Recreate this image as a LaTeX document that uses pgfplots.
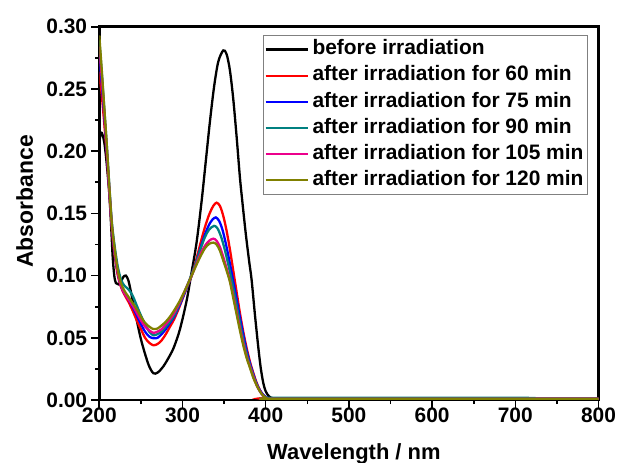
\documentclass[border=0pt]{standalone}
\usepackage{fontspec}
\setmainfont{Liberation Sans}
\usepackage{pgfplots}
\pgfplotsset{compat=1.18}
\definecolor{cteal}{RGB}{0,128,128}
\definecolor{colive}{RGB}{128,128,0}
\begin{document}
\fontsize{21}{25}\selectfont\bfseries
\begin{tikzpicture}
\begin{axis}[
  scale only axis, width=499.2bp, height=373.2bp,
  xmin=200, xmax=800, ymin=0, ymax=0.30,
  xtick={200,300,400,500,600,700,800},
  ytick={0,0.05,0.10,0.15,0.20,0.25,0.30},
  minor x tick num=1, minor y tick num=1,
  tick align=outside, xtick pos=bottom, ytick pos=left,
  major tick length=8bp, minor tick length=4bp,
  every tick/.style={black, line width=1.6bp},
  axis line style={line width=2.6bp},
  /pgf/number format/assume math mode=true,
  ticklabel style={font=\fontsize{21}{25}\selectfont\bfseries},
  yticklabel style={/tikz/inner sep=1bp, /tikz/xshift=-3bp, /pgf/number format/.cd, fixed, fixed zerofill, precision=2},
  xticklabel style={/tikz/inner sep=0bp, /pgf/number format/.cd, fixed, precision=0, set thousands separator={}},
  xlabel={Wavelength / nm}, ylabel={Absorbance},
  xlabel style={at={(axis description cs:0.51,-0.16)}, anchor=base, font=\fontsize{22}{26}\selectfont\bfseries},
  ylabel style={at={(axis description cs:-0.133,0.532)}, anchor=base, font=\fontsize{23}{27}\selectfont\bfseries},
  legend cell align=left,
  legend style={at={(axis description cs:0.328,0.978)}, anchor=north west,
    draw=gray, line width=1bp, inner sep=1bp, column sep=1.2bp,
    font=\fontsize{21}{25}\selectfont\bfseries,
    nodes={inner sep=2.6bp, text height=0.75em, text depth=0.25em}},
  legend image code/.code={\draw[#1, line width=2.2bp] (0bp,0bp) -- (42bp,0bp);},
  every axis plot/.append style={line width=2.3bp, smooth},
]
\addplot[black] coordinates {
(200,0.207)(202,0.215)(204,0.213)(206,0.207)(208,0.196)(210,0.182)(212,0.166)(214,0.143)(216,0.116)(218,0.100)(220,0.094)(223,0.093)(226,0.095)(229,0.099)(232,0.100)(235,0.096)(238,0.087)(242,0.074)(246,0.061)(250,0.049)(255,0.037)(260,0.027)(265,0.0215)(270,0.022)(277,0.027)(285,0.036)(290,0.043)(297,0.057)(305,0.080)(311,0.103)(317,0.127)(323,0.160)(328,0.192)(333,0.224)(338,0.252)(343,0.272)(349,0.281)(353,0.278)(357,0.265)(361,0.242)(365,0.212)(369,0.179)(372,0.159)(376,0.134)(380,0.112)(383,0.097)(387,0.069)(391,0.043)(394,0.026)(397,0.014)(400,0.007)(404,0.003)(410,0.0012)(430,0.001)(600,0.001)(800,0.001)};
\addlegendentry{before irradiation}
\addplot[red] coordinates {
(200,0.264)(203,0.245)(206,0.222)(209,0.197)(212,0.167)(215,0.138)(218,0.119)(222,0.101)(226,0.091)(230,0.085)(235,0.079)(240,0.072)(245,0.064)(250,0.057)(255,0.050)(260,0.046)(265,0.044)(270,0.045)(275,0.048)(280,0.053)(285,0.059)(290,0.065)(297,0.076)(305,0.090)(311,0.100)(317,0.114)(322,0.127)(327,0.139)(332,0.149)(337,0.156)(341,0.1586)(345,0.156)(349,0.148)(353,0.136)(357,0.121)(361,0.104)(365,0.087)(369,0.070)(373,0.055)(377,0.042)(381,0.031)(385,0.022)(389,0.014)(393,0.008)(397,0.004)(401,0.002)(405,0.001)(600,0.001)(800,0.001)};
\addlegendentry{after irradiation for 60 min}
\addplot[blue] coordinates {
(200,0.276)(203,0.254)(206,0.228)(209,0.200)(212,0.169)(215,0.140)(218,0.121)(222,0.103)(226,0.092)(230,0.086)(235,0.081)(240,0.075)(245,0.068)(250,0.061)(255,0.055)(260,0.051)(265,0.0496)(270,0.050)(275,0.053)(280,0.057)(285,0.062)(290,0.067)(297,0.077)(305,0.090)(311,0.100)(317,0.112)(322,0.123)(327,0.133)(332,0.141)(336,0.145)(340,0.1468)(344,0.144)(348,0.137)(352,0.126)(356,0.113)(360,0.099)(364,0.085)(368,0.070)(372,0.056)(376,0.043)(380,0.032)(384,0.023)(388,0.015)(392,0.009)(396,0.005)(400,0.0025)(404,0.0012)(410,0.001)(600,0.001)(800,0.001)};
\addlegendentry{after irradiation for 75 min}
\addplot[cteal] coordinates {
(200,0.289)(203,0.263)(206,0.234)(209,0.205)(212,0.173)(215,0.144)(218,0.126)(222,0.108)(226,0.097)(230,0.092)(235,0.089)(240,0.084)(245,0.076)(250,0.068)(255,0.061)(260,0.055)(265,0.052)(270,0.053)(275,0.055)(280,0.059)(285,0.063)(290,0.068)(297,0.078)(305,0.091)(311,0.101)(317,0.112)(322,0.122)(327,0.131)(332,0.137)(338,0.140)(342,0.138)(346,0.132)(350,0.123)(354,0.112)(358,0.100)(362,0.087)(366,0.073)(370,0.059)(374,0.046)(378,0.035)(382,0.026)(386,0.018)(390,0.011)(394,0.006)(398,0.003)(402,0.0018)(410,0.0017)(500,0.0017)(600,0.0017)(715,0.0017)(725,0.001)(800,0.001)};
\addlegendentry{after irradiation for 90 min}
\addplot[magenta] coordinates {
(200,0.284)(203,0.259)(206,0.231)(209,0.202)(212,0.170)(215,0.141)(218,0.122)(222,0.103)(226,0.092)(230,0.086)(235,0.081)(240,0.076)(245,0.070)(250,0.064)(255,0.059)(260,0.056)(265,0.054)(270,0.055)(275,0.057)(280,0.061)(285,0.065)(290,0.070)(297,0.079)(305,0.091)(311,0.100)(317,0.110)(322,0.118)(327,0.124)(332,0.128)(337,0.1297)(341,0.128)(345,0.123)(349,0.115)(353,0.106)(357,0.096)(361,0.084)(365,0.071)(369,0.058)(373,0.046)(377,0.035)(381,0.027)(385,0.019)(389,0.012)(393,0.007)(397,0.0035)(401,0.0015)(406,0.001)(600,0.001)(800,0.001)};
\addlegendentry{after irradiation for 105 min}
\addplot[colive] coordinates {
(200,0.293)(203,0.265)(206,0.235)(209,0.205)(212,0.172)(215,0.142)(218,0.124)(222,0.105)(226,0.094)(230,0.088)(235,0.083)(240,0.078)(245,0.073)(250,0.067)(255,0.062)(260,0.059)(265,0.057)(270,0.0575)(275,0.060)(280,0.063)(285,0.067)(290,0.072)(297,0.080)(305,0.091)(311,0.100)(317,0.109)(322,0.116)(327,0.122)(332,0.1255)(337,0.1265)(341,0.125)(345,0.120)(349,0.112)(353,0.104)(357,0.095)(361,0.082)(365,0.069)(369,0.056)(373,0.044)(377,0.034)(381,0.026)(385,0.018)(389,0.012)(393,0.007)(397,0.0035)(401,0.0015)(406,0.001)(600,0.001)(800,0.001)};
\addlegendentry{after irradiation for 120 min}
\end{axis}
\pgfresetboundingbox
\path (-99.3bp,-63bp) rectangle (520.7bp,400bp);
\end{tikzpicture}
\end{document}
